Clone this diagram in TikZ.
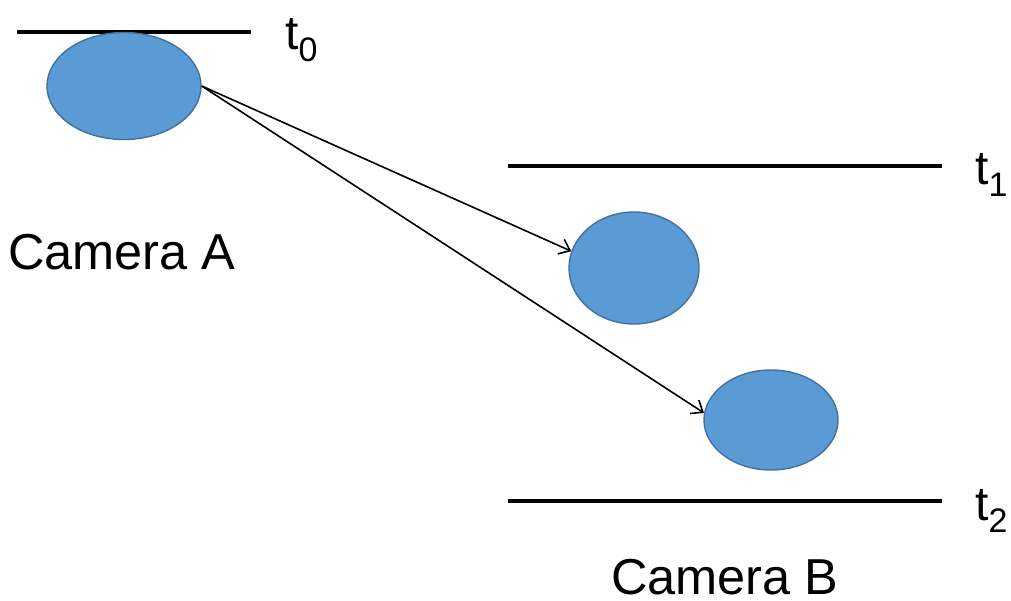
\documentclass[tikz,border=0pt]{standalone}
\usepackage{fontspec}
\setmainfont{Liberation Sans}
\usepackage{tikz}
\usetikzlibrary{positioning,shapes.geometric,arrows.meta}
\definecolor{blobfill}{HTML}{5B9BD5}
\definecolor{blobline}{HTML}{41719C}
\newcommand{\tlab}[1]{t\raisebox{-12pt}{\fontsize{34}{40}\selectfont #1}}
\tikzset{blobnode/.style={ellipse, draw=blobline, fill=blobfill, line width=1.4pt, inner sep=0pt},
         timeline/.style={line width=3.2pt},
         bigtext/.style={font=\fontsize{48}{58}\selectfont, anchor=base west, inner sep=0pt},}

\begin{document}
\begin{tikzpicture}[x=1pt, y=-1pt, >={Straight Barb[length=10pt,width=16pt]}]
\useasboundingbox (0,0) rectangle (1011,601);
% time lines
\coordinate (t0l) at (17,32);  \coordinate (t0r) at (251,32);
\coordinate (t1l) at (508,166); \coordinate (t1r) at (942,166);
\coordinate (t2l) at (508,501); \coordinate (t2r) at (942,501);
\draw[timeline] (t0l) -- (t0r);
\draw[timeline] (t1l) -- (t1r);
\draw[timeline] (t2l) -- (t2r);
\node [bigtext] (t0) at (285,50) {\tlab{0}};
\node [bigtext] (t1) at (975,185) {\tlab{1}};
\node [bigtext] (t2) at (975,520) {\tlab{2}};
% objects
\node [blobnode, minimum width=154pt, minimum height=107pt] (a) at (124,86) {};
\node [blobnode, minimum width=130pt, minimum height=112pt] (b1) at (634,268) {};
\node [blobnode, minimum width=134pt, minimum height=100pt] (b2) at (771,420) {};
\draw[line width=1.6pt, ->] (a.east) -- (b1.165);
\draw[line width=1.6pt, ->] (a.east) -- (b2.174);
% cameras
\node [bigtext, font=\fontsize{50.5}{60}\selectfont] (cama) at (8,270) {Camera A};
\node [bigtext, font=\fontsize{50.5}{60}\selectfont] (camb) at (611,594) {Camera B};
\end{tikzpicture}
\end{document}
